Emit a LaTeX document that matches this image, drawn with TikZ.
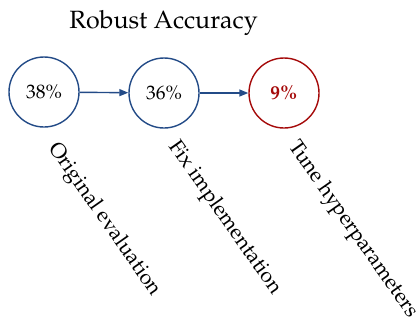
\documentclass[tikz,border=0pt]{standalone}
\usepackage[T1]{fontenc}
\usepackage{mathpazo}
\usetikzlibrary{arrows.meta}
\definecolor{cblue}{RGB}{35,75,135}
\definecolor{cred}{RGB}{165,10,10}
\tikzset{
  stage/.style={circle, draw=cblue, line width=1.4pt, minimum size=70pt, inner sep=0pt, font=\fontsize{19.5}{22}\selectfont},
  bad/.style={stage, draw=cred, text=cred, font=\fontsize{19.5}{22}\selectfont\bfseries},
  flow/.style={draw=cblue, line width=1.4pt, -{Triangle[length=9pt,width=7pt]}},
  lbl/.style={rotate=-55, anchor=base west, inner sep=0pt, font=\fontsize{21}{24}\selectfont}
}
\begin{document}
\begin{tikzpicture}[x=1pt,y=1pt]
\useasboundingbox (0,0) rectangle (419,-322);
\node[font=\fontsize{25}{30}\selectfont, anchor=base] (title) at (163.5,-28) {Robust Accuracy};
\node[stage] (a) at (44,-92) {38\%};
\node[stage] (b) at (164,-93) {36\%};
\node[bad] (c) at (284,-93) {9\%};
\draw[flow] (a) -- (b);
\draw[flow] (b) -- (c);
\node[lbl] (la) at (48,-148) {Original evaluation};
\node[lbl] (lb) at (168,-146) {Fix implementation};
\node[lbl] (lc) at (288,-146) {Tune hyperparameters};
\end{tikzpicture}
\end{document}
